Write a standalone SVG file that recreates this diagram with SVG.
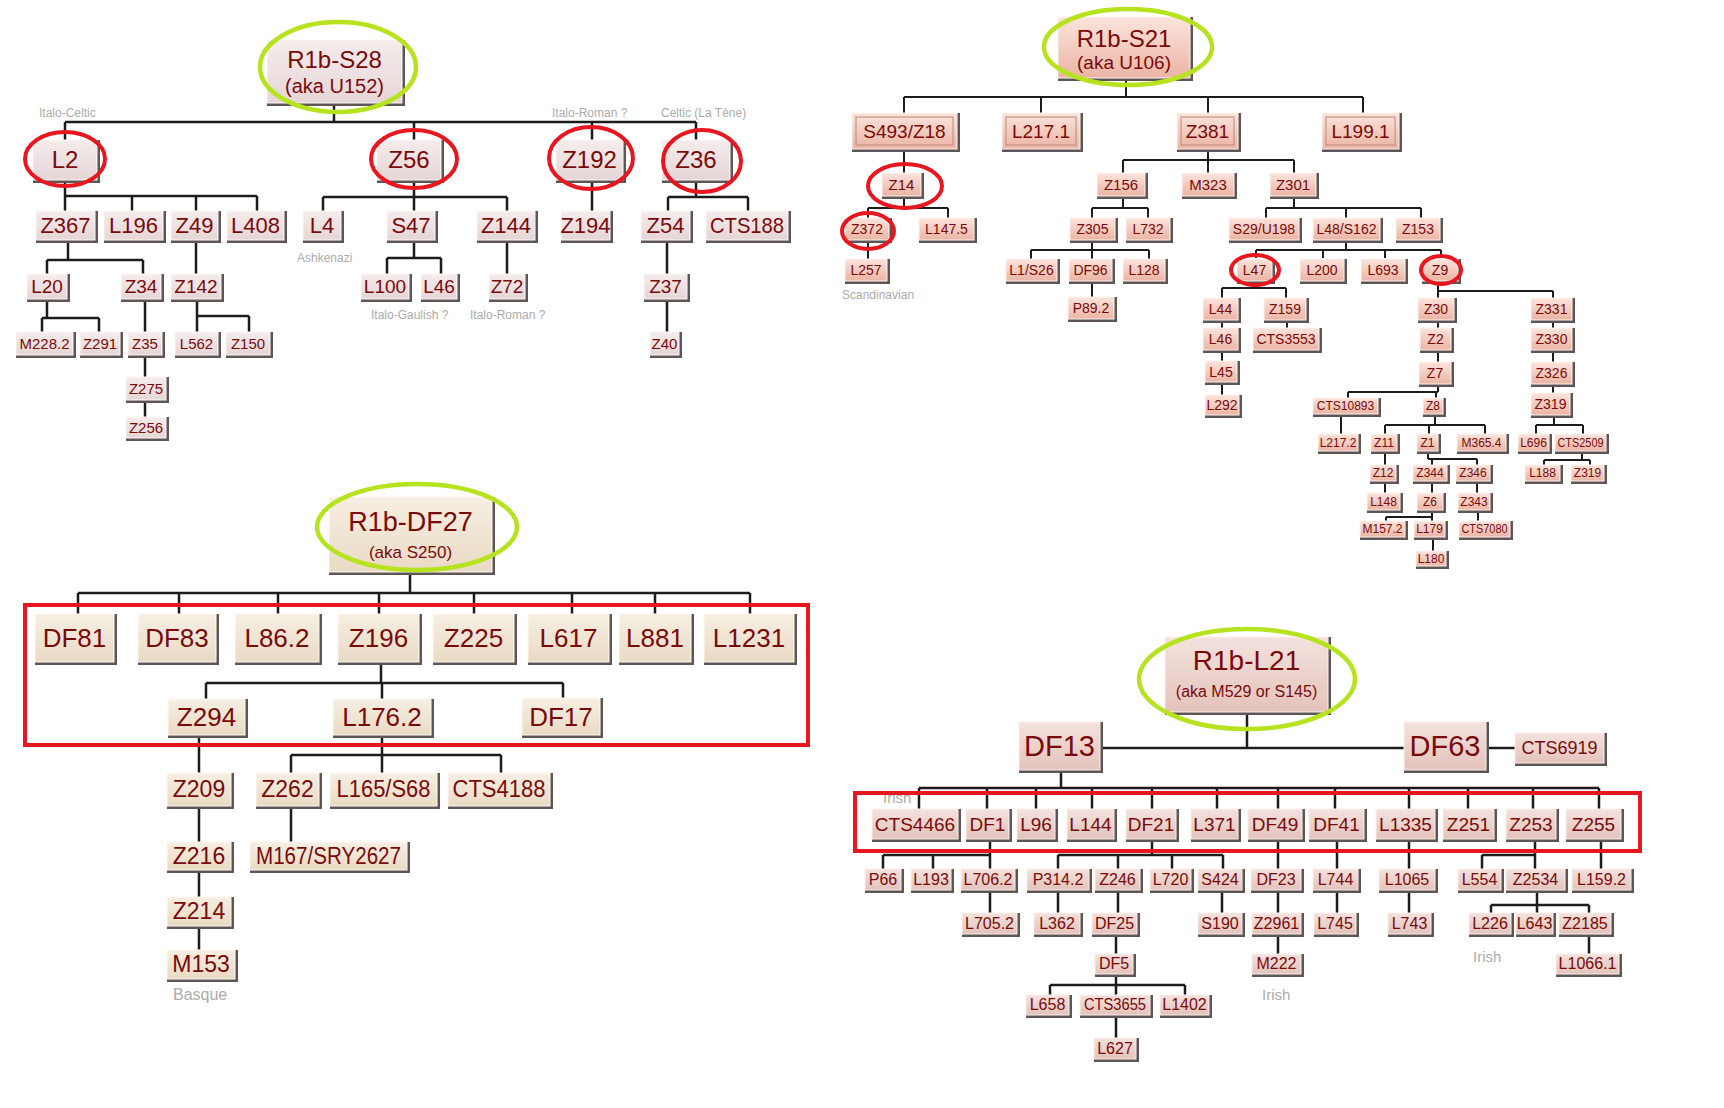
<svg xmlns="http://www.w3.org/2000/svg" width="1724" height="1108" viewBox="0 0 1724 1108">
<defs>
<linearGradient id="ga" x1="0" y1="0" x2="0" y2="1"><stop offset="0" stop-color="#f5ecec"/><stop offset="1" stop-color="#e6d6d6"/></linearGradient>
<linearGradient id="gb" x1="0" y1="0" x2="0" y2="1"><stop offset="0" stop-color="#fbe4dc"/><stop offset="1" stop-color="#ebb4a4"/></linearGradient>
<linearGradient id="gc" x1="0" y1="0" x2="0" y2="1"><stop offset="0" stop-color="#f7efe3"/><stop offset="1" stop-color="#e9dac4"/></linearGradient>
<linearGradient id="gd" x1="0" y1="0" x2="0" y2="1"><stop offset="0" stop-color="#f4e2de"/><stop offset="1" stop-color="#e3c3bb"/></linearGradient>
<style>
.sh{fill:#5e5656}
.a .fc{fill:url(#ga);stroke:#fcf8f8;stroke-width:1}
.b .fc{fill:url(#gb);stroke:#fff4f0;stroke-width:1}
.c .fc{fill:url(#gc);stroke:#fffaf2;stroke-width:1}
.d .fc{fill:url(#gd);stroke:#fbefeb;stroke-width:1}
.in{fill:none;stroke:#b88a7c;stroke-width:1}
text{font-family:"Liberation Sans",Arial,sans-serif;fill:#7a0a0a;text-anchor:middle}
text.lbl{fill:#ababab;text-anchor:start}
.cn{fill:none;stroke:#1c1c1c;stroke-width:2.5}
.cn2{fill:none;stroke:#1c1c1c;stroke-width:2}
.re{fill:none;stroke:#e8161e;stroke-width:4}
.ge{fill:none;stroke:#b6e31e;stroke-width:4.5}
</style>
</defs>
<rect width="1724" height="1108" fill="#ffffff"/>

<g id="connectors">
<path class="cn" d="M334,106V122 M65,122H696 M65,122V140 M414,122V140 M592,122V140 M696,122V140 M65,183V196 M65,196H257 M65,196V211 M132,196V211 M196,196V211 M257,196V211 M414,183V197 M323,197H507 M323,197V211 M414,197V211 M507,197V211 M592,183V211 M696,183V197 M668,197H748 M668,197V211 M748,197V211 M68,243V260 M47,260H143 M47,260V274 M143,260V274 M196,243V274 M414,243V258 M387,258H441 M387,258V275 M441,258V275 M507,243V275 M667,243V275 M47,302V318 M42,318H99 M42,318V332 M99,318V332 M145,302V332 M145,358V377 M145,403V417 M197,302V316 M197,316H249 M197,316V332 M249,316V332 M667,302V332"/>
<path class="cn2" d="M1126,81V97 M904,97H1363 M904,97V113 M1041,97V113 M1208,97V113 M1363,97V114 M904,152V173 M904,199V208 M868,208H948 M868,208V218 M948,208V218 M868,243V259 M1208,152V160 M1123,160H1294 M1123,160V173 M1208,160V173 M1294,160V173 M1123,199V208 M1092,208H1148 M1092,208V218 M1148,208V218 M1092,243V250 M1031,250H1149 M1031,250V259 M1092,250V259 M1149,250V259 M1092,284V297 M1294,199V208 M1266,208H1421 M1266,208V218 M1346,208V218 M1421,208V218 M1346,243V250 M1256,250H1441 M1256,250V258 M1323,250V258 M1385,250V258 M1441,250V258 M1257,284V288 M1222,288H1286 M1222,288V298 M1286,288V298 M1222,323V328 M1222,353V361 M1222,385V395 M1287,323V328 M1438,284V291 M1438,291H1553 M1438,291V298 M1553,291V298 M1438,323V328 M1438,353V362 M1553,323V328 M1553,353V362 M1553,387V393 M1438,387V392 M1348,392H1438 M1348,392V398 M1436,392V398 M1341,417V434 M1435,417V425 M1385,425H1485 M1385,425V434 M1429,425V434 M1485,425V434 M1385,454V465 M1385,484V493 M1428,454V459 M1428,459H1477 M1432,459V465 M1477,459V465 M1432,484V493 M1477,484V493 M1432,513V517 M1386,517H1432 M1386,517V521 M1432,517V521 M1478,513V521 M1433,540V551 M1554,418V425 M1536,425H1583 M1536,425V434 M1583,425V434 M1582,454V460 M1544,460H1590 M1544,460V465 M1590,460V465"/>
<path class="cn" d="M410,575V593 M78,593H750 M78,593V614 M179,593V614 M278,593V614 M379,593V614 M474,593V614 M572,593V614 M655,593V614 M750,593V614 M381,665V683 M206,683H563 M206,683V699 M382,683V699 M563,683V698 M199,738V773 M199,809V842 M199,873V897 M199,929V950 M382,738V755 M291,755H501 M291,755V773 M382,755V773 M501,755V773 M291,809V842"/>
<path class="cn" d="M1247,715V748 M1103,748H1404 M1489,748H1515 M1061,773V788 M919,788H1599 M919,788V809 M987,788V809 M1036,788V809 M1092,788V809 M1152,788V809 M1217,788V809 M1278,788V809 M1335,788V809 M1409,788V809 M1468,788V809 M1533,788V809 M1599,788V809 M990,842V855 M883,855H990 M883,855V869 M933,855V869 M990,855V869 M1152,842V855 M1058,855H1223 M1058,855V869 M1118,855V869 M1172,855V869 M1223,855V869 M1278,842V869 M1337,842V869 M1409,842V869 M1535,842V855 M1482,855H1535 M1482,855V869 M1535,855V869 M1601,842V869 M990,893V913 M1058,893V913 M1118,893V913 M1222,893V913 M1278,893V913 M1337,893V913 M1409,893V913 M1537,893V905 M1491,905H1589 M1491,905V913 M1537,905V913 M1589,905V913 M1116,937V954 M1278,937V954 M1589,937V954 M1116,977V985 M1050,985H1185 M1050,985V995 M1116,985V995 M1185,985V995 M1116,1018V1038"/>
</g>

<!-- Top-left tree: R1b-S28 -->
<g id="n_S28" class="a"><rect class="sh" x="267" y="40" width="138" height="66"/><rect class="fc" x="267" y="40" width="135" height="63"/><text x="334.5" y="68" font-size="24">R1b-S28</text><text x="334.5" y="93" font-size="20">(aka U152)</text></g>
<g id="n_L2" class="a"><rect class="sh" x="33" y="140" width="67" height="43"/><rect class="fc" x="33" y="140" width="64" height="40"/><text x="65" y="168" font-size="24">L2</text></g>
<g id="n_Z56" class="a"><rect class="sh" x="377" y="140" width="67" height="43"/><rect class="fc" x="377" y="140" width="64" height="40"/><text x="409" y="168" font-size="24">Z56</text></g>
<g id="n_Z192" class="a"><rect class="sh" x="556" y="140" width="70" height="43"/><rect class="fc" x="556" y="140" width="67" height="40"/><text x="589.5" y="168" font-size="24">Z192</text></g>
<g id="n_Z36" class="a"><rect class="sh" x="662" y="140" width="71" height="43"/><rect class="fc" x="662" y="140" width="68" height="40"/><text x="696" y="168" font-size="24">Z36</text></g>
<g id="n_Z367" class="a"><rect class="sh" x="36" y="211" width="62" height="32"/><rect class="fc" x="36" y="211" width="59" height="29"/><text x="65.5" y="233" font-size="22">Z367</text></g>
<g id="n_L196" class="a"><rect class="sh" x="104" y="211" width="62" height="32"/><rect class="fc" x="104" y="211" width="59" height="29"/><text x="133.5" y="233" font-size="22">L196</text></g>
<g id="n_Z49" class="a"><rect class="sh" x="171" y="211" width="50" height="32"/><rect class="fc" x="171" y="211" width="47" height="29"/><text x="194.5" y="233" font-size="22">Z49</text></g>
<g id="n_L408" class="a"><rect class="sh" x="227" y="211" width="60" height="32"/><rect class="fc" x="227" y="211" width="57" height="29"/><text x="255.5" y="233" font-size="22">L408</text></g>
<g id="n_L4" class="a"><rect class="sh" x="303" y="211" width="41" height="32"/><rect class="fc" x="303" y="211" width="38" height="29"/><text x="322" y="233" font-size="22">L4</text></g>
<g id="n_S47" class="a"><rect class="sh" x="387" y="211" width="51" height="32"/><rect class="fc" x="387" y="211" width="48" height="29"/><text x="411" y="233" font-size="22">S47</text></g>
<g id="n_Z144" class="a"><rect class="sh" x="477" y="211" width="61" height="32"/><rect class="fc" x="477" y="211" width="58" height="29"/><text x="506" y="233" font-size="22">Z144</text></g>
<g id="n_Z194" class="a"><rect class="sh" x="561" y="211" width="52" height="32"/><rect class="fc" x="561" y="211" width="49" height="29"/><text x="585.5" y="233" font-size="22">Z194</text></g>
<g id="n_Z54" class="a"><rect class="sh" x="641" y="211" width="52" height="32"/><rect class="fc" x="641" y="211" width="49" height="29"/><text x="665.5" y="233" font-size="22">Z54</text></g>
<g id="n_CTS188" class="a"><rect class="sh" x="706" y="211" width="85" height="32"/><rect class="fc" x="706" y="211" width="82" height="29"/><text x="747" y="233" font-size="22" textLength="74" lengthAdjust="spacingAndGlyphs">CTS188</text></g>
<g id="n_L20" class="a"><rect class="sh" x="27" y="274" width="43" height="28"/><rect class="fc" x="27" y="274" width="40" height="25"/><text x="47" y="293" font-size="19">L20</text></g>
<g id="n_Z34" class="a"><rect class="sh" x="121" y="274" width="43" height="28"/><rect class="fc" x="121" y="274" width="40" height="25"/><text x="141" y="293" font-size="19">Z34</text></g>
<g id="n_Z142" class="a"><rect class="sh" x="171" y="274" width="53" height="28"/><rect class="fc" x="171" y="274" width="50" height="25"/><text x="196" y="293" font-size="19">Z142</text></g>
<g id="n_L100" class="a"><rect class="sh" x="361" y="274" width="51" height="28"/><rect class="fc" x="361" y="274" width="48" height="25"/><text x="385" y="293" font-size="19">L100</text></g>
<g id="n_L46a" class="a"><rect class="sh" x="421" y="274" width="39" height="28"/><rect class="fc" x="421" y="274" width="36" height="25"/><text x="439" y="293" font-size="19">L46</text></g>
<g id="n_Z72" class="a"><rect class="sh" x="489" y="274" width="39" height="28"/><rect class="fc" x="489" y="274" width="36" height="25"/><text x="507" y="293" font-size="19">Z72</text></g>
<g id="n_Z37" class="a"><rect class="sh" x="644" y="274" width="46" height="28"/><rect class="fc" x="644" y="274" width="43" height="25"/><text x="665.5" y="293" font-size="19">Z37</text></g>
<g id="n_M228_2" class="a"><rect class="sh" x="16" y="332" width="60" height="26"/><rect class="fc" x="16" y="332" width="57" height="23"/><text x="44.5" y="349" font-size="15">M228.2</text></g>
<g id="n_Z291" class="a"><rect class="sh" x="80" y="332" width="43" height="26"/><rect class="fc" x="80" y="332" width="40" height="23"/><text x="100" y="349" font-size="15">Z291</text></g>
<g id="n_Z35" class="a"><rect class="sh" x="128" y="332" width="37" height="26"/><rect class="fc" x="128" y="332" width="34" height="23"/><text x="145" y="349" font-size="15">Z35</text></g>
<g id="n_L562" class="a"><rect class="sh" x="175" y="332" width="46" height="26"/><rect class="fc" x="175" y="332" width="43" height="23"/><text x="196.5" y="349" font-size="15">L562</text></g>
<g id="n_Z150" class="a"><rect class="sh" x="226" y="332" width="47" height="26"/><rect class="fc" x="226" y="332" width="44" height="23"/><text x="248" y="349" font-size="15">Z150</text></g>
<g id="n_Z40" class="a"><rect class="sh" x="650" y="332" width="32" height="26"/><rect class="fc" x="650" y="332" width="29" height="23"/><text x="664.5" y="349" font-size="15">Z40</text></g>
<g id="n_Z275" class="a"><rect class="sh" x="126" y="377" width="43" height="26"/><rect class="fc" x="126" y="377" width="40" height="23"/><text x="146" y="394" font-size="15">Z275</text></g>
<g id="n_Z256" class="a"><rect class="sh" x="126" y="417" width="43" height="24"/><rect class="fc" x="126" y="417" width="40" height="21"/><text x="146" y="433" font-size="15">Z256</text></g>
<text class="lbl" x="39" y="117" font-size="12">Italo-Celtic</text>
<text class="lbl" x="552" y="117" font-size="12">Italo-Roman ?</text>
<text class="lbl" x="661" y="117" font-size="12">Celtic (La Tène)</text>
<text class="lbl" x="297" y="262" font-size="12">Ashkenazi</text>
<text class="lbl" x="371" y="319" font-size="12">Italo-Gaulish ?</text>
<text class="lbl" x="470" y="319" font-size="12">Italo-Roman ?</text>

<!-- Top-right tree: R1b-S21 -->
<g id="n_S21" class="b"><rect class="sh" x="1058" y="17" width="135" height="64"/><rect class="fc" x="1058" y="17" width="132" height="61"/><text x="1124" y="47" font-size="24">R1b-S21</text><text x="1124" y="69" font-size="19">(aka U106)</text></g>
<g id="n_S493" class="b"><rect class="sh" x="852" y="113" width="108" height="39"/><rect class="fc" x="852" y="113" width="105" height="36"/><rect class="in" x="856" y="117" width="97" height="28"/><text x="904.5" y="138" font-size="19">S493/Z18</text></g>
<g id="n_L217_1" class="b"><rect class="sh" x="1002" y="113" width="81" height="39"/><rect class="fc" x="1002" y="113" width="78" height="36"/><rect class="in" x="1006" y="117" width="70" height="28"/><text x="1041" y="138" font-size="19">L217.1</text></g>
<g id="n_Z381" class="b"><rect class="sh" x="1177" y="113" width="64" height="39"/><rect class="fc" x="1177" y="113" width="61" height="36"/><rect class="in" x="1181" y="117" width="53" height="28"/><text x="1207.5" y="138" font-size="19">Z381</text></g>
<g id="n_L199_1" class="b"><rect class="sh" x="1322" y="113" width="80" height="39"/><rect class="fc" x="1322" y="113" width="77" height="36"/><rect class="in" x="1326" y="117" width="69" height="28"/><text x="1360.5" y="138" font-size="19">L199.1</text></g>
<g id="n_Z14" class="b"><rect class="sh" x="882" y="173" width="42" height="26"/><rect class="fc" x="882" y="173" width="39" height="23"/><text x="901.5" y="190" font-size="15">Z14</text></g>
<g id="n_Z156" class="b"><rect class="sh" x="1097" y="173" width="51" height="26"/><rect class="fc" x="1097" y="173" width="48" height="23"/><text x="1121" y="190" font-size="15">Z156</text></g>
<g id="n_M323" class="b"><rect class="sh" x="1182" y="173" width="55" height="26"/><rect class="fc" x="1182" y="173" width="52" height="23"/><text x="1208" y="190" font-size="15">M323</text></g>
<g id="n_Z301" class="b"><rect class="sh" x="1270" y="173" width="49" height="26"/><rect class="fc" x="1270" y="173" width="46" height="23"/><text x="1293" y="190" font-size="15">Z301</text></g>
<g id="n_Z372" class="b"><rect class="sh" x="845" y="218" width="47" height="25"/><rect class="fc" x="845" y="218" width="44" height="22"/><text x="867" y="234" font-size="14">Z372</text></g>
<g id="n_L147_5" class="b"><rect class="sh" x="919" y="218" width="58" height="25"/><rect class="fc" x="919" y="218" width="55" height="22"/><text x="946.5" y="234" font-size="14">L147.5</text></g>
<g id="n_Z305" class="b"><rect class="sh" x="1070" y="218" width="48" height="25"/><rect class="fc" x="1070" y="218" width="45" height="22"/><text x="1092.5" y="234" font-size="14">Z305</text></g>
<g id="n_L732" class="b"><rect class="sh" x="1126" y="218" width="47" height="25"/><rect class="fc" x="1126" y="218" width="44" height="22"/><text x="1148" y="234" font-size="14">L732</text></g>
<g id="n_S29" class="b"><rect class="sh" x="1229" y="218" width="73" height="25"/><rect class="fc" x="1229" y="218" width="70" height="22"/><text x="1264" y="234" font-size="14">S29/U198</text></g>
<g id="n_L48" class="b"><rect class="sh" x="1313" y="218" width="70" height="25"/><rect class="fc" x="1313" y="218" width="67" height="22"/><text x="1346.5" y="234" font-size="14">L48/S162</text></g>
<g id="n_Z153" class="b"><rect class="sh" x="1396" y="218" width="47" height="25"/><rect class="fc" x="1396" y="218" width="44" height="22"/><text x="1418" y="234" font-size="14">Z153</text></g>
<g id="n_L257" class="b"><rect class="sh" x="845" y="259" width="45" height="25"/><rect class="fc" x="845" y="259" width="42" height="22"/><text x="866" y="275" font-size="14">L257</text></g>
<g id="n_L1" class="b"><rect class="sh" x="1006" y="259" width="54" height="25"/><rect class="fc" x="1006" y="259" width="51" height="22"/><text x="1031.5" y="275" font-size="14">L1/S26</text></g>
<g id="n_DF96" class="b"><rect class="sh" x="1069" y="259" width="46" height="25"/><rect class="fc" x="1069" y="259" width="43" height="22"/><text x="1090.5" y="275" font-size="14">DF96</text></g>
<g id="n_L128" class="b"><rect class="sh" x="1123" y="259" width="45" height="25"/><rect class="fc" x="1123" y="259" width="42" height="22"/><text x="1144" y="275" font-size="14">L128</text></g>
<g id="n_L47" class="b"><rect class="sh" x="1237" y="259" width="38" height="25"/><rect class="fc" x="1237" y="259" width="35" height="22"/><text x="1254.5" y="275" font-size="14">L47</text></g>
<g id="n_L200" class="b"><rect class="sh" x="1300" y="259" width="47" height="25"/><rect class="fc" x="1300" y="259" width="44" height="22"/><text x="1322" y="275" font-size="14">L200</text></g>
<g id="n_L693" class="b"><rect class="sh" x="1361" y="259" width="47" height="25"/><rect class="fc" x="1361" y="259" width="44" height="22"/><text x="1383" y="275" font-size="14">L693</text></g>
<g id="n_Z9" class="b"><rect class="sh" x="1422" y="259" width="39" height="25"/><rect class="fc" x="1422" y="259" width="36" height="22"/><text x="1440" y="275" font-size="14">Z9</text></g>
<g id="n_P89_2" class="b"><rect class="sh" x="1068" y="297" width="49" height="25"/><rect class="fc" x="1068" y="297" width="46" height="22"/><text x="1091" y="313" font-size="14">P89.2</text></g>
<g id="n_L44" class="b"><rect class="sh" x="1203" y="298" width="38" height="25"/><rect class="fc" x="1203" y="298" width="35" height="22"/><text x="1220.5" y="314" font-size="14">L44</text></g>
<g id="n_Z159" class="b"><rect class="sh" x="1264" y="298" width="45" height="25"/><rect class="fc" x="1264" y="298" width="42" height="22"/><text x="1285" y="314" font-size="14">Z159</text></g>
<g id="n_Z30" class="b"><rect class="sh" x="1418" y="298" width="39" height="25"/><rect class="fc" x="1418" y="298" width="36" height="22"/><text x="1436" y="314" font-size="14">Z30</text></g>
<g id="n_Z331" class="b"><rect class="sh" x="1531" y="298" width="44" height="25"/><rect class="fc" x="1531" y="298" width="41" height="22"/><text x="1551.5" y="314" font-size="14">Z331</text></g>
<g id="n_L46" class="b"><rect class="sh" x="1203" y="328" width="38" height="25"/><rect class="fc" x="1203" y="328" width="35" height="22"/><text x="1220.5" y="344" font-size="14">L46</text></g>
<g id="n_CTS3553" class="b"><rect class="sh" x="1253" y="328" width="69" height="25"/><rect class="fc" x="1253" y="328" width="66" height="22"/><text x="1286" y="344" font-size="14">CTS3553</text></g>
<g id="n_Z2" class="b"><rect class="sh" x="1420" y="328" width="34" height="25"/><rect class="fc" x="1420" y="328" width="31" height="22"/><text x="1435.5" y="344" font-size="14">Z2</text></g>
<g id="n_Z330" class="b"><rect class="sh" x="1531" y="328" width="44" height="25"/><rect class="fc" x="1531" y="328" width="41" height="22"/><text x="1551.5" y="344" font-size="14">Z330</text></g>
<g id="n_L45" class="b"><rect class="sh" x="1205" y="361" width="35" height="24"/><rect class="fc" x="1205" y="361" width="32" height="21"/><text x="1221" y="377" font-size="14">L45</text></g>
<g id="n_Z7" class="b"><rect class="sh" x="1419" y="362" width="35" height="25"/><rect class="fc" x="1419" y="362" width="32" height="22"/><text x="1435" y="378" font-size="14">Z7</text></g>
<g id="n_Z326" class="b"><rect class="sh" x="1531" y="362" width="44" height="25"/><rect class="fc" x="1531" y="362" width="41" height="22"/><text x="1551.5" y="378" font-size="14">Z326</text></g>
<g id="n_L292" class="b"><rect class="sh" x="1205" y="395" width="37" height="23"/><rect class="fc" x="1205" y="395" width="34" height="20"/><text x="1222" y="410" font-size="14">L292</text></g>
<g id="n_Z319" class="b"><rect class="sh" x="1531" y="393" width="42" height="25"/><rect class="fc" x="1531" y="393" width="39" height="22"/><text x="1550.5" y="409" font-size="14">Z319</text></g>
<g id="n_CTS10893" class="b"><rect class="sh" x="1313" y="398" width="68" height="19"/><rect class="fc" x="1313" y="398" width="65" height="16"/><text x="1345.5" y="410" font-size="12">CTS10893</text></g>
<g id="n_Z8" class="b"><rect class="sh" x="1423" y="398" width="23" height="19"/><rect class="fc" x="1423" y="398" width="20" height="16"/><text x="1433" y="410" font-size="12">Z8</text></g>
<g id="n_L217_2" class="b"><rect class="sh" x="1318" y="434" width="43" height="20"/><rect class="fc" x="1318" y="434" width="40" height="17"/><text x="1338" y="447" font-size="12">L217.2</text></g>
<g id="n_Z11" class="b"><rect class="sh" x="1371" y="434" width="29" height="20"/><rect class="fc" x="1371" y="434" width="26" height="17"/><text x="1384" y="447" font-size="12">Z11</text></g>
<g id="n_Z1" class="b"><rect class="sh" x="1417" y="434" width="24" height="20"/><rect class="fc" x="1417" y="434" width="21" height="17"/><text x="1427.5" y="447" font-size="12">Z1</text></g>
<g id="n_M365_4" class="b"><rect class="sh" x="1457" y="434" width="52" height="20"/><rect class="fc" x="1457" y="434" width="49" height="17"/><text x="1481.5" y="447" font-size="12">M365.4</text></g>
<g id="n_L696" class="b"><rect class="sh" x="1518" y="434" width="34" height="20"/><rect class="fc" x="1518" y="434" width="31" height="17"/><text x="1533.5" y="447" font-size="12">L696</text></g>
<g id="n_CTS2509" class="b"><rect class="sh" x="1555" y="434" width="54" height="20"/><rect class="fc" x="1555" y="434" width="51" height="17"/><text x="1580.5" y="447" font-size="12" textLength="46" lengthAdjust="spacingAndGlyphs">CTS2509</text></g>
<g id="n_Z12" class="b"><rect class="sh" x="1370" y="465" width="29" height="19"/><rect class="fc" x="1370" y="465" width="26" height="16"/><text x="1383" y="477" font-size="12">Z12</text></g>
<g id="n_Z344" class="b"><rect class="sh" x="1413" y="465" width="37" height="19"/><rect class="fc" x="1413" y="465" width="34" height="16"/><text x="1430" y="477" font-size="12">Z344</text></g>
<g id="n_Z346" class="b"><rect class="sh" x="1456" y="465" width="37" height="19"/><rect class="fc" x="1456" y="465" width="34" height="16"/><text x="1473" y="477" font-size="12">Z346</text></g>
<g id="n_L188" class="b"><rect class="sh" x="1525" y="465" width="38" height="19"/><rect class="fc" x="1525" y="465" width="35" height="16"/><text x="1542.5" y="477" font-size="12">L188</text></g>
<g id="n_Z319b" class="b"><rect class="sh" x="1571" y="465" width="36" height="19"/><rect class="fc" x="1571" y="465" width="33" height="16"/><text x="1587.5" y="477" font-size="12">Z319</text></g>
<g id="n_L148" class="b"><rect class="sh" x="1367" y="493" width="36" height="20"/><rect class="fc" x="1367" y="493" width="33" height="17"/><text x="1383.5" y="506" font-size="12">L148</text></g>
<g id="n_Z6" class="b"><rect class="sh" x="1417" y="493" width="29" height="20"/><rect class="fc" x="1417" y="493" width="26" height="17"/><text x="1430" y="506" font-size="12">Z6</text></g>
<g id="n_Z343" class="b"><rect class="sh" x="1458" y="493" width="35" height="20"/><rect class="fc" x="1458" y="493" width="32" height="17"/><text x="1474" y="506" font-size="12">Z343</text></g>
<g id="n_M157_2" class="b"><rect class="sh" x="1360" y="521" width="48" height="19"/><rect class="fc" x="1360" y="521" width="45" height="16"/><text x="1382.5" y="533" font-size="12">M157.2</text></g>
<g id="n_L179" class="b"><rect class="sh" x="1414" y="521" width="34" height="19"/><rect class="fc" x="1414" y="521" width="31" height="16"/><text x="1429.5" y="533" font-size="12">L179</text></g>
<g id="n_CTS7080" class="b"><rect class="sh" x="1459" y="521" width="54" height="19"/><rect class="fc" x="1459" y="521" width="51" height="16"/><text x="1484.5" y="533" font-size="12" textLength="46" lengthAdjust="spacingAndGlyphs">CTS7080</text></g>
<g id="n_L180" class="b"><rect class="sh" x="1416" y="551" width="33" height="18"/><rect class="fc" x="1416" y="551" width="30" height="15"/><text x="1431" y="563" font-size="12">L180</text></g>
<text class="lbl" x="842" y="299" font-size="12">Scandinavian</text>

<!-- Bottom-left tree: R1b-DF27 -->
<g id="n_DF27" class="c"><rect class="sh" x="329" y="497" width="166" height="78"/><rect class="fc" x="329" y="497" width="163" height="75"/><text x="410.5" y="531" font-size="27">R1b-DF27</text><text x="410.5" y="558" font-size="17">(aka S250)</text></g>
<g id="n_DF81" class="c"><rect class="sh" x="35" y="614" width="82" height="51"/><rect class="fc" x="35" y="614" width="79" height="48"/><text x="74.5" y="647" font-size="26">DF81</text></g>
<g id="n_DF83" class="c"><rect class="sh" x="138" y="614" width="81" height="51"/><rect class="fc" x="138" y="614" width="78" height="48"/><text x="177" y="647" font-size="26">DF83</text></g>
<g id="n_L86_2" class="c"><rect class="sh" x="235" y="614" width="87" height="51"/><rect class="fc" x="235" y="614" width="84" height="48"/><text x="277" y="647" font-size="26">L86.2</text></g>
<g id="n_Z196" class="c"><rect class="sh" x="338" y="614" width="84" height="51"/><rect class="fc" x="338" y="614" width="81" height="48"/><text x="378.5" y="647" font-size="26">Z196</text></g>
<g id="n_Z225" class="c"><rect class="sh" x="433" y="614" width="84" height="51"/><rect class="fc" x="433" y="614" width="81" height="48"/><text x="473.5" y="647" font-size="26">Z225</text></g>
<g id="n_L617" class="c"><rect class="sh" x="528" y="614" width="84" height="51"/><rect class="fc" x="528" y="614" width="81" height="48"/><text x="568.5" y="647" font-size="26">L617</text></g>
<g id="n_L881" class="c"><rect class="sh" x="619" y="614" width="75" height="51"/><rect class="fc" x="619" y="614" width="72" height="48"/><text x="655" y="647" font-size="26">L881</text></g>
<g id="n_L1231" class="c"><rect class="sh" x="704" y="614" width="93" height="51"/><rect class="fc" x="704" y="614" width="90" height="48"/><text x="749" y="647" font-size="26">L1231</text></g>
<g id="n_Z294" class="c"><rect class="sh" x="168" y="699" width="80" height="39"/><rect class="fc" x="168" y="699" width="77" height="36"/><text x="206.5" y="726" font-size="26">Z294</text></g>
<g id="n_L176_2" class="c"><rect class="sh" x="333" y="699" width="101" height="39"/><rect class="fc" x="333" y="699" width="98" height="36"/><text x="382" y="726" font-size="26">L176.2</text></g>
<g id="n_DF17" class="c"><rect class="sh" x="522" y="698" width="81" height="40"/><rect class="fc" x="522" y="698" width="78" height="37"/><text x="561" y="726" font-size="26">DF17</text></g>
<g id="n_Z209" class="c"><rect class="sh" x="167" y="773" width="67" height="36"/><rect class="fc" x="167" y="773" width="64" height="33"/><text x="199" y="797" font-size="23">Z209</text></g>
<g id="n_Z262" class="c"><rect class="sh" x="256" y="773" width="66" height="36"/><rect class="fc" x="256" y="773" width="63" height="33"/><text x="287.5" y="797" font-size="23">Z262</text></g>
<g id="n_L165" class="c"><rect class="sh" x="330" y="773" width="110" height="36"/><rect class="fc" x="330" y="773" width="107" height="33"/><text x="383.5" y="797" font-size="23" textLength="94" lengthAdjust="spacingAndGlyphs">L165/S68</text></g>
<g id="n_CTS4188" class="c"><rect class="sh" x="448" y="773" width="105" height="36"/><rect class="fc" x="448" y="773" width="102" height="33"/><text x="499" y="797" font-size="23" textLength="93" lengthAdjust="spacingAndGlyphs">CTS4188</text></g>
<g id="n_Z216" class="c"><rect class="sh" x="167" y="842" width="67" height="31"/><rect class="fc" x="167" y="842" width="64" height="28"/><text x="199" y="864" font-size="23">Z216</text></g>
<g id="n_M167" class="c"><rect class="sh" x="250" y="842" width="160" height="31"/><rect class="fc" x="250" y="842" width="157" height="28"/><text x="328.5" y="864" font-size="23" textLength="145" lengthAdjust="spacingAndGlyphs">M167/SRY2627</text></g>
<g id="n_Z214" class="c"><rect class="sh" x="167" y="897" width="67" height="32"/><rect class="fc" x="167" y="897" width="64" height="29"/><text x="199" y="919" font-size="23">Z214</text></g>
<g id="n_M153" class="c"><rect class="sh" x="167" y="950" width="71" height="32"/><rect class="fc" x="167" y="950" width="68" height="29"/><text x="201" y="972" font-size="23">M153</text></g>
<text class="lbl" x="173" y="1000" font-size="16">Basque</text>

<!-- Bottom-right tree: R1b-L21 -->
<g id="n_L21" class="d"><rect class="sh" x="1165" y="637" width="166" height="78"/><rect class="fc" x="1165" y="637" width="163" height="75"/><text x="1246.5" y="670" font-size="28">R1b-L21</text><text x="1246.5" y="697" font-size="16">(aka M529 or S145)</text></g>
<g id="n_DF13" class="d"><rect class="sh" x="1019" y="722" width="84" height="51"/><rect class="fc" x="1019" y="722" width="81" height="48"/><text x="1059.5" y="756" font-size="29">DF13</text></g>
<g id="n_DF63" class="d"><rect class="sh" x="1404" y="722" width="85" height="51"/><rect class="fc" x="1404" y="722" width="82" height="48"/><text x="1445" y="756" font-size="29">DF63</text></g>
<g id="n_CTS6919" class="d"><rect class="sh" x="1515" y="733" width="92" height="33"/><rect class="fc" x="1515" y="733" width="89" height="30"/><text x="1559.5" y="754" font-size="18">CTS6919</text></g>
<g id="n_CTS4466" class="d"><rect class="sh" x="872" y="809" width="89" height="33"/><rect class="fc" x="872" y="809" width="86" height="30"/><text x="915" y="831" font-size="19">CTS4466</text></g>
<g id="n_DF1" class="d"><rect class="sh" x="966" y="809" width="46" height="33"/><rect class="fc" x="966" y="809" width="43" height="30"/><text x="987.5" y="831" font-size="19">DF1</text></g>
<g id="n_L96" class="d"><rect class="sh" x="1017" y="809" width="41" height="33"/><rect class="fc" x="1017" y="809" width="38" height="30"/><text x="1036" y="831" font-size="19">L96</text></g>
<g id="n_L144" class="d"><rect class="sh" x="1067" y="809" width="50" height="33"/><rect class="fc" x="1067" y="809" width="47" height="30"/><text x="1090.5" y="831" font-size="19">L144</text></g>
<g id="n_DF21" class="d"><rect class="sh" x="1126" y="809" width="53" height="33"/><rect class="fc" x="1126" y="809" width="50" height="30"/><text x="1151" y="831" font-size="19">DF21</text></g>
<g id="n_L371" class="d"><rect class="sh" x="1191" y="809" width="50" height="33"/><rect class="fc" x="1191" y="809" width="47" height="30"/><text x="1214.5" y="831" font-size="19">L371</text></g>
<g id="n_DF49" class="d"><rect class="sh" x="1248" y="809" width="57" height="33"/><rect class="fc" x="1248" y="809" width="54" height="30"/><text x="1275" y="831" font-size="19">DF49</text></g>
<g id="n_DF41" class="d"><rect class="sh" x="1309" y="809" width="58" height="33"/><rect class="fc" x="1309" y="809" width="55" height="30"/><text x="1336.5" y="831" font-size="19">DF41</text></g>
<g id="n_L1335" class="d"><rect class="sh" x="1376" y="809" width="62" height="33"/><rect class="fc" x="1376" y="809" width="59" height="30"/><text x="1405.5" y="831" font-size="19">L1335</text></g>
<g id="n_Z251" class="d"><rect class="sh" x="1443" y="809" width="54" height="33"/><rect class="fc" x="1443" y="809" width="51" height="30"/><text x="1468.5" y="831" font-size="19">Z251</text></g>
<g id="n_Z253" class="d"><rect class="sh" x="1506" y="809" width="53" height="33"/><rect class="fc" x="1506" y="809" width="50" height="30"/><text x="1531" y="831" font-size="19">Z253</text></g>
<g id="n_Z255" class="d"><rect class="sh" x="1566" y="809" width="58" height="33"/><rect class="fc" x="1566" y="809" width="55" height="30"/><text x="1593.5" y="831" font-size="19">Z255</text></g>
<g id="n_P66" class="d"><rect class="sh" x="865" y="869" width="39" height="24"/><rect class="fc" x="865" y="869" width="36" height="21"/><text x="883" y="885" font-size="16">P66</text></g>
<g id="n_L193" class="d"><rect class="sh" x="911" y="869" width="43" height="24"/><rect class="fc" x="911" y="869" width="40" height="21"/><text x="931" y="885" font-size="16">L193</text></g>
<g id="n_L706_2" class="d"><rect class="sh" x="961" y="869" width="57" height="24"/><rect class="fc" x="961" y="869" width="54" height="21"/><text x="988" y="885" font-size="16">L706.2</text></g>
<g id="n_P314_2" class="d"><rect class="sh" x="1027" y="869" width="65" height="24"/><rect class="fc" x="1027" y="869" width="62" height="21"/><text x="1058" y="885" font-size="16">P314.2</text></g>
<g id="n_Z246" class="d"><rect class="sh" x="1095" y="869" width="48" height="24"/><rect class="fc" x="1095" y="869" width="45" height="21"/><text x="1117.5" y="885" font-size="16">Z246</text></g>
<g id="n_L720" class="d"><rect class="sh" x="1150" y="869" width="44" height="24"/><rect class="fc" x="1150" y="869" width="41" height="21"/><text x="1170.5" y="885" font-size="16">L720</text></g>
<g id="n_S424" class="d"><rect class="sh" x="1198" y="869" width="47" height="24"/><rect class="fc" x="1198" y="869" width="44" height="21"/><text x="1220" y="885" font-size="16">S424</text></g>
<g id="n_DF23" class="d"><rect class="sh" x="1251" y="869" width="53" height="24"/><rect class="fc" x="1251" y="869" width="50" height="21"/><text x="1276" y="885" font-size="16">DF23</text></g>
<g id="n_L744" class="d"><rect class="sh" x="1313" y="869" width="48" height="24"/><rect class="fc" x="1313" y="869" width="45" height="21"/><text x="1335.5" y="885" font-size="16">L744</text></g>
<g id="n_L1065" class="d"><rect class="sh" x="1379" y="869" width="59" height="24"/><rect class="fc" x="1379" y="869" width="56" height="21"/><text x="1407" y="885" font-size="16">L1065</text></g>
<g id="n_L554" class="d"><rect class="sh" x="1458" y="869" width="46" height="24"/><rect class="fc" x="1458" y="869" width="43" height="21"/><text x="1479.5" y="885" font-size="16">L554</text></g>
<g id="n_Z2534" class="d"><rect class="sh" x="1506" y="869" width="62" height="24"/><rect class="fc" x="1506" y="869" width="59" height="21"/><text x="1535.5" y="885" font-size="16">Z2534</text></g>
<g id="n_L159_2" class="d"><rect class="sh" x="1572" y="869" width="62" height="24"/><rect class="fc" x="1572" y="869" width="59" height="21"/><text x="1601.5" y="885" font-size="16">L159.2</text></g>
<g id="n_L705_2" class="d"><rect class="sh" x="962" y="913" width="58" height="24"/><rect class="fc" x="962" y="913" width="55" height="21"/><text x="989.5" y="929" font-size="16">L705.2</text></g>
<g id="n_L362" class="d"><rect class="sh" x="1034" y="913" width="49" height="24"/><rect class="fc" x="1034" y="913" width="46" height="21"/><text x="1057" y="929" font-size="16">L362</text></g>
<g id="n_DF25" class="d"><rect class="sh" x="1092" y="913" width="48" height="24"/><rect class="fc" x="1092" y="913" width="45" height="21"/><text x="1114.5" y="929" font-size="16">DF25</text></g>
<g id="n_S190" class="d"><rect class="sh" x="1198" y="913" width="47" height="24"/><rect class="fc" x="1198" y="913" width="44" height="21"/><text x="1220" y="929" font-size="16">S190</text></g>
<g id="n_Z2961" class="d"><rect class="sh" x="1252" y="913" width="52" height="24"/><rect class="fc" x="1252" y="913" width="49" height="21"/><text x="1276.5" y="929" font-size="16">Z2961</text></g>
<g id="n_L745" class="d"><rect class="sh" x="1314" y="913" width="45" height="24"/><rect class="fc" x="1314" y="913" width="42" height="21"/><text x="1335" y="929" font-size="16">L745</text></g>
<g id="n_L743" class="d"><rect class="sh" x="1388" y="913" width="46" height="24"/><rect class="fc" x="1388" y="913" width="43" height="21"/><text x="1409.5" y="929" font-size="16">L743</text></g>
<g id="n_L226" class="d"><rect class="sh" x="1469" y="913" width="45" height="24"/><rect class="fc" x="1469" y="913" width="42" height="21"/><text x="1490" y="929" font-size="16">L226</text></g>
<g id="n_L643" class="d"><rect class="sh" x="1516" y="913" width="40" height="24"/><rect class="fc" x="1516" y="913" width="37" height="21"/><text x="1534.5" y="929" font-size="16">L643</text></g>
<g id="n_Z2185" class="d"><rect class="sh" x="1559" y="913" width="55" height="24"/><rect class="fc" x="1559" y="913" width="52" height="21"/><text x="1585" y="929" font-size="16">Z2185</text></g>
<g id="n_DF5" class="d"><rect class="sh" x="1095" y="954" width="41" height="23"/><rect class="fc" x="1095" y="954" width="38" height="20"/><text x="1114" y="969" font-size="16">DF5</text></g>
<g id="n_M222" class="d"><rect class="sh" x="1252" y="954" width="52" height="23"/><rect class="fc" x="1252" y="954" width="49" height="20"/><text x="1276.5" y="969" font-size="16">M222</text></g>
<g id="n_L1066_1" class="d"><rect class="sh" x="1556" y="954" width="66" height="23"/><rect class="fc" x="1556" y="954" width="63" height="20"/><text x="1587.5" y="969" font-size="16">L1066.1</text></g>
<g id="n_L658" class="d"><rect class="sh" x="1026" y="995" width="46" height="23"/><rect class="fc" x="1026" y="995" width="43" height="20"/><text x="1047.5" y="1010" font-size="16">L658</text></g>
<g id="n_CTS3655" class="d"><rect class="sh" x="1080" y="995" width="73" height="23"/><rect class="fc" x="1080" y="995" width="70" height="20"/><text x="1115" y="1010" font-size="16" textLength="62" lengthAdjust="spacingAndGlyphs">CTS3655</text></g>
<g id="n_L1402" class="d"><rect class="sh" x="1160" y="995" width="52" height="23"/><rect class="fc" x="1160" y="995" width="49" height="20"/><text x="1184.5" y="1010" font-size="16">L1402</text></g>
<g id="n_L627" class="d"><rect class="sh" x="1094" y="1038" width="45" height="24"/><rect class="fc" x="1094" y="1038" width="42" height="21"/><text x="1115" y="1054" font-size="16">L627</text></g>
<text class="lbl" x="883" y="803" font-size="15">Irish</text>
<text class="lbl" x="1473" y="962" font-size="15">Irish</text>
<text class="lbl" x="1262" y="1000" font-size="15">Irish</text>

<!-- Highlights -->
<g id="highlights">
<ellipse class="ge" cx="338" cy="67" rx="78" ry="45"/>
<ellipse class="re" cx="65" cy="159" rx="40" ry="27"/>
<ellipse class="re" cx="414" cy="159" rx="43" ry="29"/>
<ellipse class="re" cx="591" cy="158" rx="42" ry="31"/>
<ellipse class="re" cx="702" cy="161" rx="39" ry="31"/>
<ellipse class="ge" cx="1128" cy="47" rx="84" ry="38"/>
<ellipse class="re" cx="905" cy="186" rx="37" ry="22"/>
<ellipse class="re" cx="868" cy="231" rx="26" ry="18"/>
<ellipse class="re" cx="1255" cy="270" rx="24" ry="15"/>
<ellipse class="re" cx="1441" cy="270" rx="20" ry="14"/>
<ellipse class="ge" cx="417" cy="527" rx="100" ry="43"/>
<rect class="re" x="25" y="605" width="783" height="140"/>
<ellipse class="ge" cx="1247" cy="679" rx="108" ry="50"/>
<rect class="re" x="855" y="793" width="785" height="58"/>
</g>
</svg>
